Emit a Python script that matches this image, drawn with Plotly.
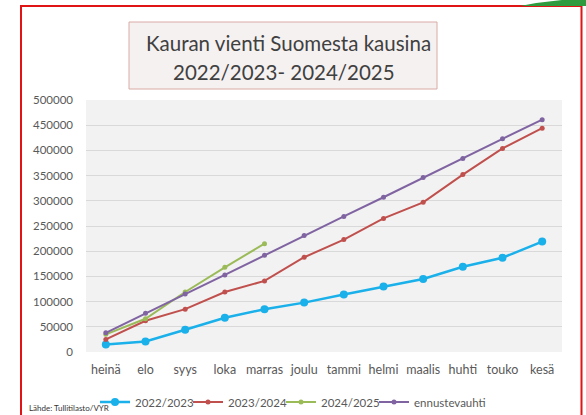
import plotly.graph_objects as go

months = ["heinä", "elo", "syys", "loka", "marras", "joulu", "tammi", "helmi",
          "maalis", "huhti", "touko", "kesä"]
s2223 = [15000, 21000, 44000, 68000, 85000, 98000, 114000, 130000, 145000, 169000, 187000, 219000]
s2324 = [25000, 62000, 85000, 119000, 141000, 188000, 223000, 265000, 297000, 352000, 404000, 444000]
s2425 = [35000, 66000, 119000, 168000, 215000]
ennuste = [38000, 77000, 115000, 153000, 192000, 231000, 269000, 307000, 346000, 384000, 423000, 461000]
y_ticks = list(range(0, 500001, 50000))

W, H = 586, 415
L, R, T, B = 86, 562, 100, 352

def px(x):
    return (x - L) / (R - L)

def py(y):
    return (B - y) / (B - T)

FONT = "Lato"
fig = go.Figure()
fig.add_trace(go.Scatter(x=months, y=s2223, name="2022/2023", mode="lines+markers",
                         line=dict(color="#1ab0ea", width=2.5), marker=dict(size=8, color="#1ab0ea")))
fig.add_trace(go.Scatter(x=months, y=s2324, name="2023/2024", mode="lines+markers",
                         line=dict(color="#c0504d", width=2), marker=dict(size=5, color="#c0504d")))
fig.add_trace(go.Scatter(x=months[:len(s2425)], y=s2425, name="2024/2025", mode="lines+markers",
                         line=dict(color="#9bbb59", width=2), marker=dict(size=5, color="#9bbb59")))
fig.add_trace(go.Scatter(x=months, y=ennuste, name="ennustevauhti", mode="lines+markers",
                         line=dict(color="#8064a2", width=2), marker=dict(size=5, color="#8064a2")))
# spacer entry so the last legend label is not clipped
fig.add_trace(go.Scatter(x=[None], y=[None], name=" ", mode="lines",
                         line=dict(color="rgba(0,0,0,0)"), hoverinfo="skip"))

shapes = [
    dict(type="rect", xref="paper", yref="paper", x0=px(21), x1=px(581.5), y0=py(430), y1=py(6),
         line=dict(color="#e01414", width=2), fillcolor="rgba(0,0,0,0)", layer="above"),
    dict(type="path", xref="paper", yref="paper",
         path=f"M {px(520)},{py(6)} Q {px(540)},{py(2)} {px(562)},{py(0)} L {px(586)},{py(0)} L {px(586)},{py(6)} Z",
         fillcolor="#2e9b3e", line=dict(width=0), layer="above"),
    dict(type="rect", xref="paper", yref="paper", x0=px(129), x1=px(437), y0=py(89), y1=py(22),
         fillcolor="#f5f1f0", line=dict(color="#d9aaa6", width=1), layer="below"),
]

annotations = [
    dict(text="Kauran vienti Suomesta kausina", x=px(288), y=py(43), xref="paper", yref="paper",
         showarrow=False, font=dict(family=FONT, size=20.5, color="#404040"), xanchor="center", yanchor="middle"),
    dict(text="2022/2023- 2024/2025", x=px(284), y=py(72), xref="paper", yref="paper",
         showarrow=False, font=dict(family=FONT, size=20.5, color="#404040"), xanchor="center", yanchor="middle"),
    dict(text="Lähde: Tullitilasto/VYR", x=px(27), y=py(408), xref="paper", yref="paper",
         showarrow=False, font=dict(family=FONT, size=8, color="#333333"), xanchor="left", yanchor="middle"),
]

fig.update_layout(
    width=W, height=H,
    margin=dict(l=L, r=W - R, t=T, b=H - B, autoexpand=False),
    paper_bgcolor="white", plot_bgcolor="#f2f2f2",
    font=dict(family=FONT, color="#595959"),
    showlegend=True,
    legend=dict(orientation="h", x=px(95), y=py(402), xanchor="left", yanchor="middle",
                font=dict(family=FONT, size=11.5, color="#595959"), bgcolor="rgba(0,0,0,0)",
                entrywidth=48, itemwidth=30),
    shapes=shapes, annotations=annotations,
)
fig.update_xaxes(type="category", range=[-0.5, 11.5], showgrid=False, zeroline=False, showline=False,
                 tickfont=dict(family=FONT, size=12.5, color="#595959"), ticks="", ticklabelstandoff=8)
fig.update_yaxes(range=[0, 500000], tickvals=y_ticks, ticktext=[str(v) for v in y_ticks],
                 showgrid=True, gridcolor="#d9d9d9", gridwidth=1, zeroline=False, showline=False,
                 tickfont=dict(family=FONT, size=11.5, color="#595959"), ticks="", ticklabelstandoff=12)

fig.write_html("out.html", config={"displayModeBar": False},
               post_script="document.body.style.margin='0';document.body.style.overflow='hidden';")
